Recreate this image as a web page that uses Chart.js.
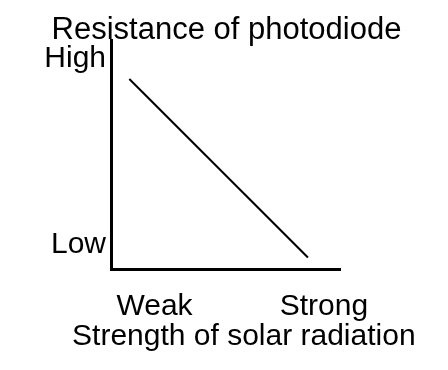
<!DOCTYPE html>
<html><head><meta charset="utf-8">
<script src="https://cdn.jsdelivr.net/npm/chart.js@4.4.1/dist/chart.umd.min.js"></script>
<style>html,body{margin:0;padding:0;background:#fff;}canvas{display:block;}</style>
</head><body>
<canvas id="c" width="448" height="370"></canvas>
<script>
const titleText = 'Resistance of photodiode';
const xTitleText = 'Strength of solar radiation';
const xTickLabels = ['Weak', 'Strong'];
const xTickValues = [19, 93];
const yTickLabels = ['Low', 'High'];
const yTickValues = [10.7, 92];
const solarStrength = [8, 86];
const resistance = [83, 5];

const FONT = "'Liberation Sans', Arial, sans-serif";

const xTitlePlugin = {
  id: 'xTitle',
  afterDraw(chart) {
    const ctx = chart.ctx;
    const xs = chart.scales.x;
    ctx.save();
    ctx.font = '30px ' + FONT;
    ctx.fillStyle = '#000';
    ctx.textAlign = 'center';
    ctx.textBaseline = 'alphabetic';
    ctx.fillText(xTitleText, xs.getPixelForValue(58), 345);
    ctx.restore();
  }
};

new Chart(document.getElementById('c'), {
  type: 'line',
  data: {
    datasets: [{
      data: solarStrength.map((x, i) => ({x: x, y: resistance[i]})),
      borderColor: '#000',
      borderWidth: 2,
      pointRadius: 0,
      fill: false,
      tension: 0,
      yAxisID: 'y'
    }]
  },
  options: {
    responsive: false,
    animation: false,
    layout: {padding: {left: 5, right: 0, top: 0, bottom: 0}},
    plugins: {
      legend: {display: false},
      tooltip: {enabled: false},
      title: {
        display: true,
        text: titleText,
        color: '#000',
        font: {family: FONT, size: 31, weight: 'normal', lineHeight: 0.5},
        padding: {top: 23, bottom: 1.5}
      }
    },
    scales: {
      x: {
        type: 'linear',
        min: 0, max: 100,
        afterFit(s) { s.height = 101; },
        afterBuildTicks(s) { s.ticks = xTickValues.map(v => ({value: v})); },
        grid: {display: false, drawTicks: false},
        border: {display: true, color: '#000', width: 3},
        ticks: {
          color: '#000',
          padding: 20,
          maxRotation: 0,
          autoSkip: false,
          font: {family: FONT, size: 30},
          callback: (v, i) => xTickLabels[i]
        }
      },
      y: {
        type: 'linear',
        min: 0, max: 100,
        afterFit(s) { s.width = 106; },
        afterBuildTicks(s) { s.ticks = yTickValues.map(v => ({value: v})); },
        grid: {display: false, drawTicks: false},
        border: {display: true, color: '#000', width: 3},
        ticks: {
          color: '#000',
          padding: 5,
          autoSkip: false,
          font: {family: FONT, size: 30},
          callback: (v, i) => yTickLabels[i]
        }
      },
      spacer: {
        type: 'linear',
        position: 'right',
        display: true,
        afterFit(s) { s.width = 108; },
        grid: {display: false, drawTicks: false},
        border: {display: false},
        ticks: {display: false}
      }
    }
  },
  plugins: [xTitlePlugin]
});
</script>
</body></html>
